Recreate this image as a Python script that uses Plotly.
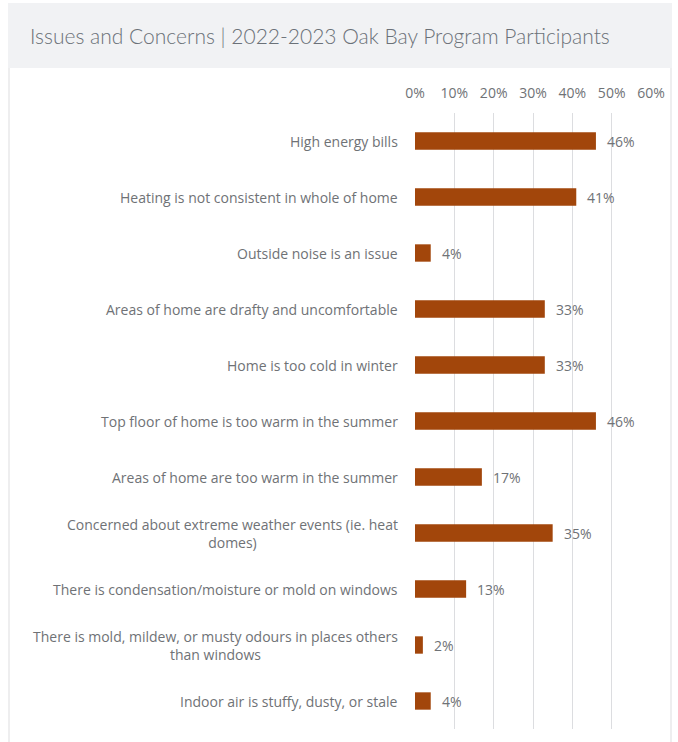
import plotly.graph_objects as go

categories = [
    "High energy bills",
    "Heating is not consistent in whole of home",
    "Outside noise is an issue",
    "Areas of home are drafty and uncomfortable",
    "Home is too cold in winter",
    "Top floor of home is too warm in the summer",
    "Areas of home are too warm in the summer",
    "Concerned about extreme weather events (ie. heat<br>domes)",
    "There is condensation/moisture or mold on windows",
    "There is mold, mildew, or musty odours in places others<br>than windows",
    "Indoor air is stuffy, dusty, or stale",
]
values = [46, 41, 4, 33, 33, 46, 17, 35, 13, 2, 4]
tick_vals = [0, 10, 20, 30, 40, 50, 60]
tick_text = ["0%", "10%", "20%", "30%", "40%", "50%", "60%"]
title_text = "Issues and Concerns | 2022-2023 Oak Bay Program Participants"

BAR = "#a2460b"
TXT = "#6f7276"
FONT = "Open Sans"

W, H = 678, 742
L, R, T, B = 415, 27, 113, 13
PW, PH = W - L - R, H - T - B

def px_x(p):
    return (p - L) / PW

def px_y(p):
    return 1 - (p - T) / PH

ys = list(range(len(categories)))

fig = go.Figure()
fig.add_trace(go.Bar(
    x=values, y=ys, orientation="h",
    marker=dict(color=BAR, line=dict(width=0)),
    width=0.31,
    hoverinfo="skip",
))

annotations = []
for y, c in zip(ys, categories):
    annotations.append(dict(
        x=px_x(400), xref="paper", y=y, yref="y",
        text=c, showarrow=False, xanchor="right", yanchor="middle",
        align="center", font=dict(family=FONT, size=14, color=TXT),
    ))
for y, v in zip(ys, values):
    annotations.append(dict(
        x=v, xref="x", y=y, yref="y", xshift=9,
        text=f"{v}%", showarrow=False, xanchor="left", yanchor="middle",
        font=dict(family=FONT, size=14, color=TXT),
    ))

fig.update_layout(
    width=W, height=H,
    margin=dict(l=L, r=R, t=T, b=B),
    paper_bgcolor="white", plot_bgcolor="white",
    showlegend=False,
    title=dict(text=title_text, x=30 / W, xanchor="left", y=1 - 37 / H, yanchor="middle",
               font=dict(family="Lato", size=21, color="#6b7178", weight=300)),
    xaxis=dict(range=[0, 60], side="top", tickvals=tick_vals, ticktext=tick_text,
               showgrid=True, gridcolor="#dcdde0", gridwidth=1, zeroline=False,
               showline=False, ticks="", ticklabelstandoff=11,
               tickfont=dict(family=FONT, size=14, color=TXT), fixedrange=True),
    yaxis=dict(range=[len(categories) - 0.5, -0.5], showticklabels=False,
               showgrid=False, zeroline=False, showline=False, fixedrange=True),
    annotations=annotations,
    shapes=[
        dict(type="rect", xref="paper", yref="paper",
             x0=px_x(8), x1=px_x(672), y0=px_y(3), y1=px_y(68),
             fillcolor="#f1f2f4", line=dict(width=0), layer="below"),
        dict(type="line", xref="paper", yref="paper",
             x0=px_x(9), x1=px_x(9), y0=px_y(68), y1=px_y(742),
             line=dict(color="#eeeeef", width=2), layer="below"),
        dict(type="line", xref="paper", yref="paper",
             x0=px_x(671), x1=px_x(671), y0=px_y(68), y1=px_y(742),
             line=dict(color="#eeeeef", width=2), layer="below"),
    ],
)

fig.write_html("out.html")
